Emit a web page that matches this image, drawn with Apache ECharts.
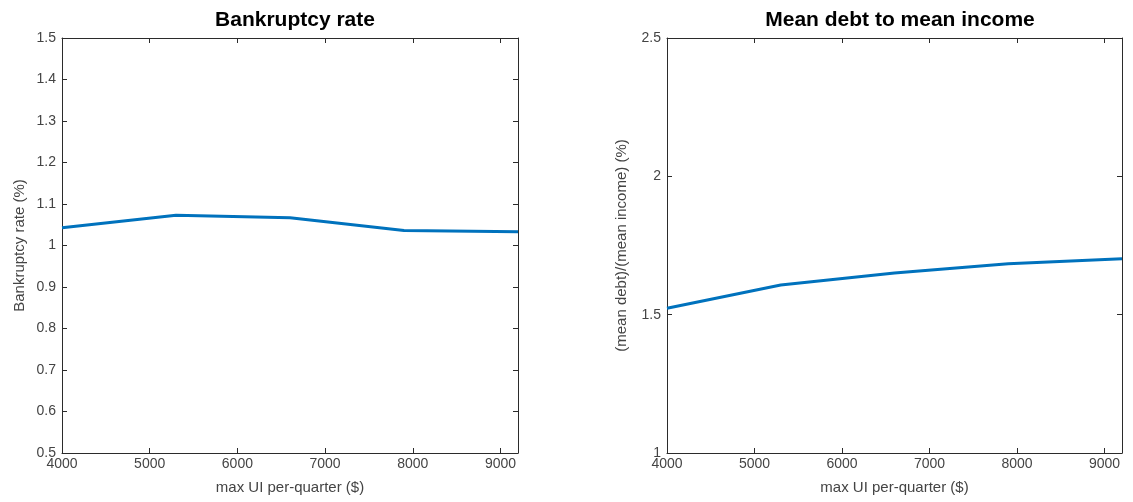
<!DOCTYPE html>
<html>
<head>
<meta charset="utf-8">
<script src="https://cdn.jsdelivr.net/npm/echarts@6/dist/echarts.min.js"></script>
<style>
html,body{margin:0;padding:0;background:#fff;}
#main{width:1133px;height:502px;}
</style>
</head>
<body>
<div id="main"></div>
<script>
// Data
const uiMax = [4000, 5300, 6600, 7900, 9200];
const bankruptcyRate = [1.043, 1.073, 1.067, 1.036, 1.033];
const debtToIncome = [1.523, 1.607, 1.651, 1.684, 1.702];
const titles = ['Bankruptcy rate', 'Mean debt to mean income'];
const yNames = ['Bankruptcy rate (%)', '(mean debt)/(mean income) (%)'];
const xName = 'max UI per-quarter ($)';

const FONT = 'Liberation Sans, Arial, sans-serif';
const axisColor = '#2b2b2b';
const labelColor = '#444444';

function pairs(xs, ys) { return xs.map((x, i) => [x, ys[i]]); }

const grids = [
  {left: 62, width: 456, top: 38, height: 415},
  {left: 667, width: 455, top: 38, height: 415}
];

const xAxes = [];
const yAxes = [];
const yRanges = [{min: 0.5, max: 1.5, interval: 0.1}, {min: 1, max: 2.5, interval: 0.5}];
const yNameGap = [35, 38];

for (let g = 0; g < 2; g++) {
  xAxes.push({
    type: 'value', gridIndex: g, min: 4000, max: 9200, interval: 1000,
    name: xName, nameLocation: 'middle', nameGap: 27,
    nameTextStyle: {color: labelColor, fontSize: 15, fontFamily: FONT},
    axisLine: {show: true, lineStyle: {color: axisColor, width: 1}},
    axisTick: {show: true, inside: true, length: 5, lineStyle: {color: axisColor}},
    axisLabel: {color: labelColor, fontSize: 14, fontFamily: FONT, margin: 4, showMaxLabel: false,
                formatter: v => String(v)},
    splitLine: {show: false}
  });
  xAxes.push({
    type: 'value', gridIndex: g, position: 'top', min: 4000, max: 9200, interval: 1000,
    axisLine: {show: true, lineStyle: {color: axisColor, width: 1}},
    axisTick: {show: true, inside: true, length: 5, lineStyle: {color: axisColor}},
    axisLabel: {show: false}, splitLine: {show: false}
  });
  yAxes.push({
    type: 'value', gridIndex: g, min: yRanges[g].min, max: yRanges[g].max, interval: yRanges[g].interval,
    name: yNames[g], nameLocation: 'middle', nameGap: yNameGap[g],
    nameTextStyle: {color: labelColor, fontSize: 15, fontFamily: FONT},
    axisLine: {show: true, lineStyle: {color: axisColor, width: 1}},
    axisTick: {show: true, inside: true, length: 5, lineStyle: {color: axisColor}},
    axisLabel: {color: labelColor, fontSize: 14, fontFamily: FONT, margin: 6},
    splitLine: {show: false}
  });
  yAxes.push({
    type: 'value', gridIndex: g, position: 'right', min: yRanges[g].min, max: yRanges[g].max, interval: yRanges[g].interval,
    axisLine: {show: true, lineStyle: {color: axisColor, width: 1}},
    axisTick: {show: true, inside: true, length: 5, lineStyle: {color: axisColor}},
    axisLabel: {show: false}, splitLine: {show: false}
  });
}

const chart = echarts.init(document.getElementById('main'), null, {renderer: 'canvas'});
chart.setOption({
  backgroundColor: '#ffffff',
  animation: false,
  title: [
    {text: titles[0], left: 290, top: 5, textAlign: 'center',
     textStyle: {fontSize: 21, fontWeight: 'bold', color: '#000', fontFamily: FONT}},
    {text: titles[1], left: 895, top: 5, textAlign: 'center',
     textStyle: {fontSize: 21, fontWeight: 'bold', color: '#000', fontFamily: FONT}}
  ],
  grid: grids,
  xAxis: xAxes,
  yAxis: yAxes,
  series: [
    {type: 'line', xAxisIndex: 0, yAxisIndex: 0, data: pairs(uiMax, bankruptcyRate),
     showSymbol: false, lineStyle: {color: '#0072BD', width: 3}},
    {type: 'line', xAxisIndex: 2, yAxisIndex: 2, data: pairs(uiMax, debtToIncome),
     showSymbol: false, lineStyle: {color: '#0072BD', width: 3}}
  ]
});
</script>
</body>
</html>
